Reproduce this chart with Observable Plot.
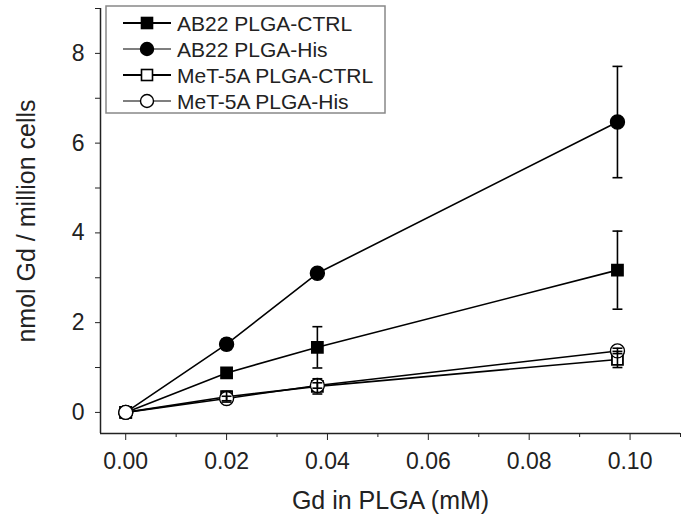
<!DOCTYPE html>
<html>
<head>
<meta charset="utf-8">
<script src="https://cdn.jsdelivr.net/npm/d3@7"></script>
<script src="https://cdn.jsdelivr.net/npm/@observablehq/plot@0.6"></script>
<style>
  html, body { margin: 0; padding: 0; background: #fff; }
  svg { display: block; }
</style>
</head>
<body>
<div id="chart"></div>
<script>
// ---- data ----
const concentrations = [0, 0.02, 0.038, 0.0975];
const seriesNames = ["AB22 PLGA-CTRL", "AB22 PLGA-His", "MeT-5A PLGA-CTRL", "MeT-5A PLGA-His"];
const ab22CtrlValues = [0, 0.88, 1.45, 3.17];
const ab22CtrlErrors = [0, 0.08, 0.46, 0.87];
const ab22HisValues = [0, 1.52, 3.10, 6.47];
const ab22HisErrors = [0, 0.12, 0.06, 1.24];
const met5aCtrlValues = [0, 0.35, 0.58, 1.18];
const met5aCtrlErrors = [0, 0.12, 0.17, 0.18];
const met5aHisValues = [0, 0.31, 0.60, 1.37];
const met5aHisErrors = [0, 0.05, 0.06, 0.06];
const xTicks = [0, 0.02, 0.04, 0.06, 0.08, 0.10];
const xMinorTicks = [0.01, 0.03, 0.05, 0.07, 0.09, 0.11];
const yTicks = [0, 2, 4, 6, 8];
const yMinorTicks = [1, 3, 5, 7, 9];

const seriesStyle = {
  "AB22 PLGA-CTRL": {symbol: "square", fill: "black", r: 6.2, sw: 1.8},
  "AB22 PLGA-His": {symbol: "circle", fill: "black", r: 7, sw: 1.4},
  "MeT-5A PLGA-CTRL": {symbol: "square", fill: "white", r: 6.2, sw: 1.8},
  "MeT-5A PLGA-His": {symbol: "circle", fill: "white", r: 7, sw: 1.4}
};

const valueSets = [ab22CtrlValues, ab22HisValues, met5aCtrlValues, met5aHisValues];
const errorSets = [ab22CtrlErrors, ab22HisErrors, met5aCtrlErrors, met5aHisErrors];
const rows = [];
seriesNames.forEach((s, i) => {
  concentrations.forEach((x, j) => {
    rows.push({series: s, x, y: valueSets[i][j], err: errorSets[i][j]});
  });
});
const errRows = rows.filter(d => d.err > 0);

const xDomain = [-0.005, 0.11];
const yDomain = [-0.47, 9];
const font = "'Liberation Sans', Arial, sans-serif";

const capSymbol = {
  draw(context, size) {
    const w = Math.sqrt(size) / 2;
    context.moveTo(-w, 0);
    context.lineTo(w, 0);
  }
};

const marks = [
  Plot.ruleX([xDomain[0]], {stroke: "#222", strokeWidth: 1.5}),
  Plot.ruleY([yDomain[0]], {stroke: "#222", strokeWidth: 1.5}),
  Plot.axisX({ticks: xTicks, tickSize: 7, tickPadding: 12, tickFormat: d3.format(".2f"), fontSize: 23,
    label: null, stroke: "#222"}),
  Plot.axisX({ticks: xMinorTicks, tickSize: 4, tickFormat: () => "", label: null, stroke: "#222"}),
  Plot.axisY({ticks: yTicks, tickSize: 5, tickPadding: 11, tickFormat: d3.format("d"), fontSize: 23,
    label: null, stroke: "#222"}),
  Plot.axisY({ticks: yMinorTicks, tickSize: 5, tickFormat: () => "", label: null, stroke: "#222"}),
  Plot.text(["Gd in PLGA (mM)"], {frameAnchor: "bottom", dy: 75, fontSize: 25, fill: "#222"}),
  Plot.text(["nmol Gd / million cells"], {frameAnchor: "left", dx: -74, rotate: -90, textAnchor: "middle",
    fontSize: 25, fill: "#222"})
];

seriesNames.forEach(s => {
  const data = rows.filter(d => d.series === s);
  marks.push(Plot.line(data, {x: "x", y: "y", stroke: "black", strokeWidth: 1.6}));
});
seriesNames.forEach(s => {
  const st = seriesStyle[s];
  const data = rows.filter(d => d.series === s);
  marks.push(Plot.dot(data, {x: "x", y: "y", symbol: () => st.symbol, r: st.r,
    fill: st.fill, stroke: "black", strokeWidth: st.sw}));
});
marks.push(Plot.ruleX(errRows, {x: "x", y1: d => d.y - d.err, y2: d => d.y + d.err, stroke: "black", strokeWidth: 1.6}));
marks.push(Plot.dot(errRows, {x: "x", y: d => d.y - d.err, symbol: capSymbol, r: 5.6, stroke: "black", strokeWidth: 1.6, fill: "none"}));
marks.push(Plot.dot(errRows, {x: "x", y: d => d.y + d.err, symbol: capSymbol, r: 5.6, stroke: "black", strokeWidth: 1.6, fill: "none"}));

const svg = Plot.plot({
  width: 685,
  height: 524,
  marginLeft: 100,
  marginRight: 5,
  marginTop: 8,
  marginBottom: 91,
  style: {fontFamily: font, fontSize: "23px", color: "#222", background: "white", overflow: "visible"},
  x: {domain: xDomain},
  y: {domain: yDomain},
  symbol: {type: "identity"},
  marks
});

// legend inside the plot area
const g = d3.select(svg).append("g").attr("font-family", font).style("font-size", "21px");
g.append("rect").attr("x", 106).attr("y", 6).attr("width", 279).attr("height", 107)
  .attr("fill", "white").attr("stroke", "#888").attr("stroke-width", 1.5);
seriesNames.forEach((s, i) => {
  const st = seriesStyle[s];
  const cy = 23 + i * 26;
  g.append("line").attr("x1", 123).attr("x2", 171).attr("y1", cy).attr("y2", cy)
    .attr("stroke", "black").attr("stroke-width", st.symbol === "square" ? 2 : 1.2);
  if (st.symbol === "square") {
    g.append("rect").attr("x", 147 - 5.5).attr("y", cy - 5.5).attr("width", 11).attr("height", 11)
      .attr("fill", st.fill).attr("stroke", "black").attr("stroke-width", 1.6);
  } else {
    g.append("circle").attr("cx", 147).attr("cy", cy).attr("r", 6.5)
      .attr("fill", st.fill).attr("stroke", "black").attr("stroke-width", 1.4);
  }
  g.append("text").attr("x", 177).attr("y", cy).attr("dy", "0.36em").attr("text-anchor", "start")
    .attr("fill", "#222").text(s);
});

document.getElementById("chart").appendChild(svg);
</script>
</body>
</html>
